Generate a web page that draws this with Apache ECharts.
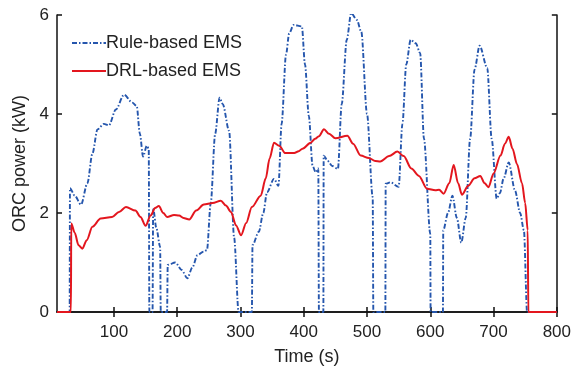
<!DOCTYPE html>
<html><head><meta charset="utf-8">
<script src="https://cdn.jsdelivr.net/npm/echarts@6/dist/echarts.min.js"></script>
<style>html,body{margin:0;padding:0;background:#fff}#c{width:574px;height:371px}</style>
</head><body><div id="c"></div>
<script>
const seriesNames = ['Rule-based EMS', 'DRL-based EMS'];
const xTicks = [100, 200, 300, 400, 500, 600, 700, 800];
const yTicks = [0, 2, 4, 6];

const ruleTime = [10,30,30.5,38,48,58,66,74,84,92,103,116,129,136,141,146,152,155,156,161,162,167,173,174,184,185,197,207,216,224,232,242,247,253,260,267,272,282,290,297,318,319,329,336,342,353,360,365,372,377,384,397,402,408,414,419,423,424,431,431.5,438,445,454,460,468,475,484,491,500,509,510,529,529.5,537,550,556,562,569,577,584,590,600,600.5,620,620.5,628,635,642,649,656,663,670,678,690,697,705,710,716,724,734,742,748,753,800];
const rulePower = [0,0,2.5,2.35,2.17,2.6,3.2,3.69,3.8,3.77,4.09,4.39,4.23,4.16,3.6,3.14,3.36,3.3,0,0,2.1,1.7,1.32,0,0,0.95,1.0,0.85,0.68,0.9,1.15,1.22,1.25,2.2,3.6,4.33,4.2,3.66,1.5,0,0,1.35,1.62,2.0,2.42,2.69,2.55,3.8,5.2,5.63,5.8,5.77,5.0,3.96,2.95,2.82,2.9,0,0,3.16,3.05,2.95,2.89,4.2,5.5,6.04,5.9,5.66,4.0,2.32,0,0,2.59,2.62,2.53,3.8,5.0,5.5,5.43,5.23,3.5,1.58,0,0,1.65,2.0,2.35,1.9,1.4,1.9,3.5,4.9,5.38,4.93,3.5,2.29,2.4,2.7,3.02,2.45,2.0,1.65,0,0];

const drlTime = [10,32,32.5,38,44,50,57,66,79,97,108,119,134,142,150,158,165,171,178,184,195,203,210,219,230,242,256,269,277,285,293,301,309,318,332,340,346,353,361,371,385,392,398,411,418,424,432,440,450,469,478,490,503,513,521,535,548,558,570,582,595,608,614,621,630,637,644,650,660,670,679,686,692,700,711,718,724,730,737,745,750,754,755,800];
const drlPower = [0,0,1.79,1.6,1.35,1.28,1.45,1.72,1.89,1.92,2.02,2.12,2.05,1.92,1.74,1.95,2.1,2.14,2.0,1.92,1.96,1.95,1.9,1.87,2.05,2.17,2.2,2.25,2.15,2.02,1.75,1.55,1.8,2.12,2.35,2.7,3.1,3.42,3.36,3.21,3.21,3.25,3.3,3.42,3.5,3.55,3.69,3.6,3.51,3.56,3.4,3.16,3.11,3.05,3.04,3.15,3.24,3.15,2.9,2.75,2.49,2.46,2.47,2.39,2.6,2.97,2.6,2.37,2.55,2.7,2.75,2.6,2.52,2.8,3.16,3.4,3.54,3.3,2.99,2.6,2.2,1.65,0,0];

const zip = (a, b) => a.map((v, i) => [v, b[i]]);
const FONT = 'Liberation Sans, Arial, sans-serif';
const chart = echarts.init(document.getElementById('c'), null, {renderer: 'canvas'});
const axisLine = {show: true, lineStyle: {color: '#111', width: 1.5}};
chart.setOption({
  animation: false,
  backgroundColor: '#fff',
  grid: {left: 57, right: 16, top: 15, bottom: 57},
  legend: {
    left: 66, top: 29, orient: 'vertical', itemGap: 10, itemWidth: 34, itemHeight: 14,
    itemStyle: {opacity: 0},
    textStyle: {fontFamily: FONT, fontSize: 18, color: '#222', padding: [0, 0, 0, -5]},
    data: seriesNames
  },
  xAxis: [{
    type: 'value', min: 10, max: 800, position: 'bottom',
    name: 'Time (s)', nameLocation: 'middle', nameGap: 36,
    nameTextStyle: {fontFamily: FONT, fontSize: 18, color: '#222'},
    axisLine: axisLine, splitLine: {show: false},
    axisTick: {inside: true, length: 5, lineStyle: {color: '#111', width: 1.5}, customValues: xTicks},
    axisLabel: {fontFamily: FONT, fontSize: 17, color: '#222', margin: 12, customValues: xTicks}
  }, {
    type: 'value', min: 10, max: 800, position: 'top',
    axisLine: axisLine, splitLine: {show: false},
    axisTick: {inside: true, length: 5, lineStyle: {color: '#111', width: 1.5}, customValues: xTicks},
    axisLabel: {show: false}
  }],
  yAxis: [{
    type: 'value', min: 0, max: 6, interval: 2, position: 'left',
    name: 'ORC power (kW)', nameLocation: 'middle', nameGap: 28,
    nameTextStyle: {fontFamily: FONT, fontSize: 18, color: '#222'},
    axisLine: axisLine, splitLine: {show: false},
    axisTick: {inside: true, length: 5, lineStyle: {color: '#111', width: 1.5}},
    axisLabel: {fontFamily: FONT, fontSize: 17, color: '#222', margin: 8, customValues: yTicks}
  }, {
    type: 'value', min: 0, max: 6, interval: 2, position: 'right',
    axisLine: axisLine, splitLine: {show: false},
    axisTick: {inside: true, length: 5, lineStyle: {color: '#111', width: 1.5}},
    axisLabel: {show: false}
  }],
  series: [{
    name: seriesNames[0], type: 'line', xAxisIndex: 0, yAxisIndex: 0,
    data: zip(ruleTime, rulePower), showSymbol: false, symbol: 'none',
    smooth: 0.3, smoothMonotone: 'x', clip: true,
    lineStyle: {color: '#2556ad', width: 1.9, type: [5, 2, 1.5, 2]},
    itemStyle: {color: '#2556ad'}
  }, {
    name: seriesNames[1], type: 'line', xAxisIndex: 0, yAxisIndex: 0,
    data: zip(drlTime, drlPower), showSymbol: false, symbol: 'none',
    smooth: 0.3, smoothMonotone: 'x', clip: true,
    lineStyle: {color: '#e3161e', width: 2},
    itemStyle: {color: '#e3161e'}
  }]
});
</script></body></html>
